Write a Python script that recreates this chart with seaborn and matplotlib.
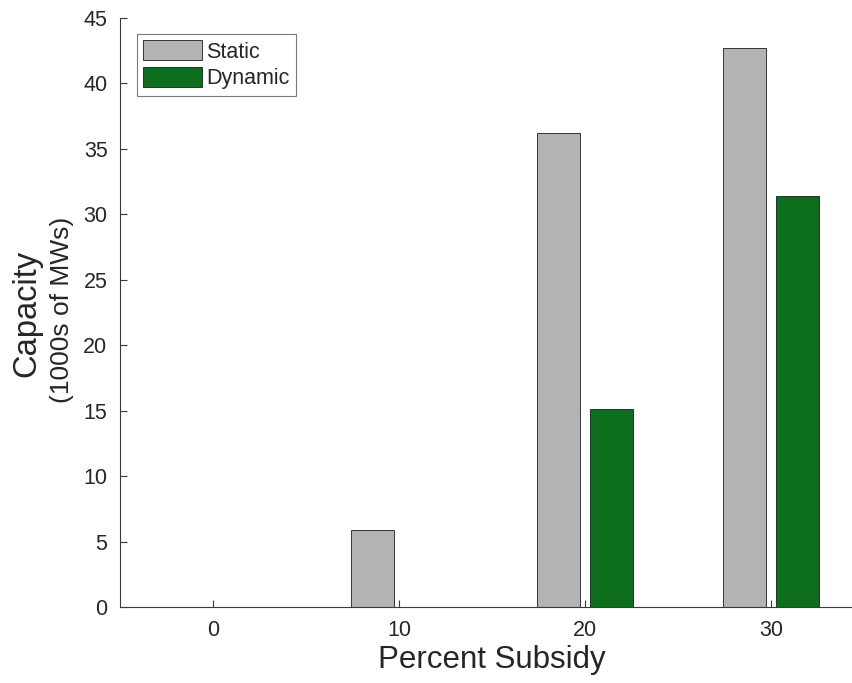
import matplotlib
matplotlib.use("Agg")
import matplotlib.pyplot as plt
import seaborn as sns
import pandas as pd

# Installed capacity (1000s of MW) by subsidy level
subsidy = ["0", "10", "20", "30"]
static = [0.0, 5.9, 36.2, 42.7]
dynamic = [0.0, 0.0, 15.1, 31.4]
series = ["Static", "Dynamic"]
y_ticks = [0, 5, 10, 15, 20, 25, 30, 35, 40, 45]

df = pd.DataFrame({
    "Subsidy": subsidy * 2,
    "Capacity": static + dynamic,
    "Policy": [series[0]] * len(static) + [series[1]] * len(dynamic),
})

sns.set_theme(style="white")
plt.rcParams["font.family"] = ["Liberation Sans", "DejaVu Sans"]

ink = "#262626"
fig = plt.figure(figsize=(8.52, 6.83), dpi=100)
ax = fig.add_axes([120 / 852, 76 / 683, 744 / 852, 589 / 683])

sns.barplot(
    data=df, x="Subsidy", y="Capacity", hue="Policy",
    order=subsidy, hue_order=series,
    palette={"Static": "#b3b3b3", "Dynamic": "#0d6e1d"},
    saturation=1, width=0.56, gap=0.175, errorbar=None,
    edgecolor="#1a1a1a", linewidth=0.6, ax=ax,
)

ax.set_xlim(-0.5, 3.5)
ax.set_ylim(0, 45)
ax.set_yticks(y_ticks)
ax.set_yticklabels([str(t) for t in y_ticks])

for side in ("top", "right"):
    ax.spines[side].set_visible(False)
for side in ("left", "bottom"):
    ax.spines[side].set_color("#3a3a3a")
    ax.spines[side].set_linewidth(0.8)

ax.tick_params(bottom=True, left=True, direction="in", length=5, width=0.8,
               color="#3a3a3a", labelsize=15.5, labelcolor=ink, pad=9)

ax.set_xlabel("Percent Subsidy", fontsize=22.5, color=ink)
ax.xaxis.set_label_coords(0.5, -0.09)
ax.xaxis.label.set_va("center")
ax.set_ylabel("")

fig.text(27 / 852, 1 - 313 / 683, "Capacity", rotation=90, fontsize=23.5,
         color=ink, ha="center", va="center")
fig.text(62 / 852, 1 - 310 / 683, "(1000s of MWs)", rotation=90, fontsize=19,
         color=ink, ha="center", va="center")

handles, labels = ax.get_legend_handles_labels()
leg = ax.legend(handles, labels, loc="upper left",
                bbox_to_anchor=(17 / 744, 1 - 16 / 589),
                fontsize=15.5, frameon=True, fancybox=False,
                handlelength=2.7, handleheight=1.05, handletextpad=0.2,
                labelspacing=0.2, borderpad=0.3, borderaxespad=0)
leg.get_frame().set_edgecolor("#5a5a5a")
leg.get_frame().set_linewidth(0.8)
for t in leg.get_texts():
    t.set_color(ink)

fig.savefig("out.png", dpi=100)
